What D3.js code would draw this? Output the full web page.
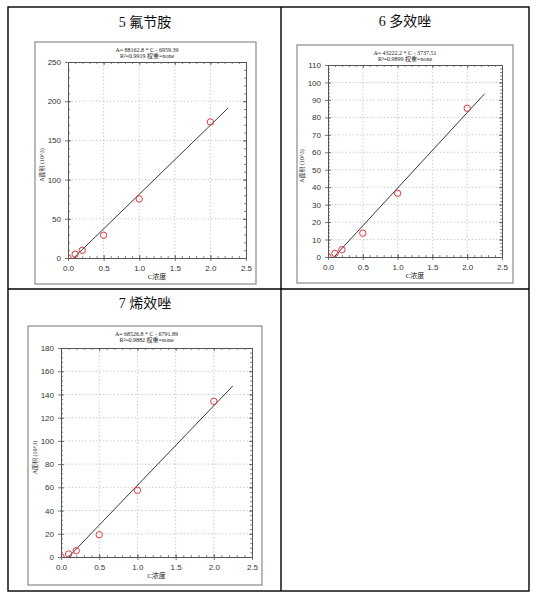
<!DOCTYPE html>
<html>
<head>
<meta charset="utf-8">
<script src="https://cdn.jsdelivr.net/npm/d3@7"></script>
<style>
html,body{margin:0;padding:0;background:#fff;}
svg{display:block;}
</style>
</head>
<body>
<svg id="chart" width="539" height="598"></svg>
<script>
// ---- data ----
const titles = ["5 氟节胺", "6 多效唑", "7 烯效唑"];
const equations = ["A= 88162.8 * C - 6959.39", "A= 43222.2 * C - 3737.51", "A= 68526.8 * C - 6791.89"];
const r2Texts = ["R²=0.9919 权重=none", "R²=0.9899 权重=none", "R²=0.9882 权重=none"];
const slopes = [88.1628, 43.2222, 68.5268];      // in 10^3 units
const intercepts = [-6.95939, -3.73751, -6.79189];
const concentrations = [0, 0.1, 0.2, 0.5, 1.0, 2.0];
const areas1 = [0, 4.8, 9.8, 29, 75.3, 173.5];
const areas2 = [0, 2.1, 4.2, 13.7, 36.5, 85.2];
const areas3 = [0, 2.6, 5.5, 19.2, 57.4, 134.1];
const seriesAreas = [areas1, areas2, areas3];
const xTicks = [0.0, 0.5, 1.0, 1.5, 2.0, 2.5];
const yTicks1 = [0, 50, 100, 150, 200, 250];
const yTicks2 = [0, 10, 20, 30, 40, 50, 60, 70, 80, 90, 100, 110];
const yTicks3 = [0, 20, 40, 60, 80, 100, 120, 140, 160, 180];
const yTickSets = [yTicks1, yTicks2, yTicks3];
const yMinorSteps = [10, 2, 4];
const xMinorStep = 0.1;
const fitRange = [0, 2.25];
const xTitle = "C浓度";
const yTitle = "A面积 (10^3)";

// ---- layout ----
const layouts = [
  {box:{x:35,y:42,w:221,h:242}, plot:{l:68,r:246,t:62,b:258}, title:[145,24]},
  {box:{x:297,y:45,w:216,h:238}, plot:{l:328,r:502,t:65,b:257}, title:[405,23]},
  {box:{x:28,y:326,w:234,h:259}, plot:{l:61,r:252,t:348,b:557}, title:[145,305]}
];

const svg = d3.select("#chart");
svg.append("rect").attr("width",539).attr("height",598).attr("fill","#fff");

// table
const tbl = svg.append("g").attr("stroke","#000").attr("stroke-width",1.4).attr("fill","none");
tbl.append("rect").attr("x",8).attr("y",7).attr("width",521).attr("height",584);
tbl.append("line").attr("x1",281).attr("x2",281).attr("y1",7).attr("y2",591);
tbl.append("line").attr("x1",8).attr("x2",529).attr("y1",289).attr("y2",289);

const tickFont = "'Liberation Sans', Arial, sans-serif";
const cjkFont = "'Liberation Serif','Noto Sans CJK SC', serif";

layouts.forEach((L, i) => {
  const g = svg.append("g");
  // title
  g.append("text").attr("x",L.title[0]).attr("y",L.title[1])
    .attr("text-anchor","middle").attr("dominant-baseline","middle")
    .attr("font-family",cjkFont).attr("font-size",14).attr("fill","#111")
    .text(titles[i]);
  // frame box
  g.append("rect").attr("x",L.box.x).attr("y",L.box.y).attr("width",L.box.w).attr("height",L.box.h)
    .attr("fill","#fff").attr("stroke","#8a8a8a").attr("stroke-width",1.2);

  const yt = yTickSets[i];
  const x = d3.scaleLinear().domain([0,2.5]).range([L.plot.l, L.plot.r]);
  const y = d3.scaleLinear().domain([0, yt[yt.length-1]]).range([L.plot.b, L.plot.t]);
  const pw = L.plot.r - L.plot.l, ph = L.plot.b - L.plot.t;

  // grid
  const grid = g.append("g").attr("stroke","#c0c0c0").attr("stroke-width",0.8).attr("stroke-dasharray","1.5,2");
  xTicks.slice(1,-1).forEach(v => grid.append("line").attr("x1",x(v)).attr("x2",x(v)).attr("y1",L.plot.t).attr("y2",L.plot.b));
  yt.slice(1,-1).forEach(v => grid.append("line").attr("x1",L.plot.l).attr("x2",L.plot.r).attr("y1",y(v)).attr("y2",y(v)));

  // axes with d3 axes
  const xMinor = d3.range(0, 2.5001, xMinorStep);
  const yMinor = d3.range(0, yt[yt.length-1] + 0.001, yMinorSteps[i]);
  const axColor = "#555";
  function styleAxis(sel){
    sel.select(".domain").attr("stroke",axColor).attr("stroke-width",1);
    sel.selectAll(".tick line").attr("stroke",axColor).attr("stroke-width",0.8);
    sel.selectAll("text").attr("font-family",tickFont).attr("font-size",8).attr("fill","#333");
  }
  // bottom
  const bx = g.append("g").attr("transform",`translate(0,${L.plot.b})`)
    .call(d3.axisBottom(x).tickValues(xTicks).tickFormat(d3.format(".1f")).tickSizeInner(3).tickSizeOuter(0).tickPadding(4));
  styleAxis(bx);
  g.append("g").attr("transform",`translate(0,${L.plot.b})`)
    .call(d3.axisTop(x).tickValues(xMinor).tickFormat("").tickSizeInner(2).tickSizeOuter(0))
    .call(s=>{s.select(".domain").remove(); s.selectAll("line").attr("stroke",axColor).attr("stroke-width",0.7);});
  g.append("g").attr("transform",`translate(0,${L.plot.b})`)
    .call(d3.axisTop(x).tickValues(xTicks).tickFormat("").tickSizeInner(3).tickSizeOuter(0))
    .call(s=>{s.select(".domain").remove(); s.selectAll("line").attr("stroke",axColor).attr("stroke-width",0.8);});
  // top
  g.append("g").attr("transform",`translate(0,${L.plot.t})`)
    .call(d3.axisBottom(x).tickValues(xMinor).tickFormat("").tickSizeInner(2).tickSizeOuter(0))
    .call(s=>{s.select(".domain").attr("stroke",axColor); s.selectAll("line").attr("stroke",axColor).attr("stroke-width",0.7);});
  g.append("g").attr("transform",`translate(0,${L.plot.t})`)
    .call(d3.axisBottom(x).tickValues(xTicks).tickFormat("").tickSizeInner(3).tickSizeOuter(0))
    .call(s=>{s.select(".domain").remove(); s.selectAll("line").attr("stroke",axColor).attr("stroke-width",0.8);});
  // left
  const ly = g.append("g").attr("transform",`translate(${L.plot.l},0)`)
    .call(d3.axisLeft(y).tickValues(yt).tickFormat(d3.format("d")).tickSizeInner(3).tickSizeOuter(0).tickPadding(4));
  styleAxis(ly);
  g.append("g").attr("transform",`translate(${L.plot.l},0)`)
    .call(d3.axisRight(y).tickValues(yMinor).tickFormat("").tickSizeInner(2).tickSizeOuter(0))
    .call(s=>{s.select(".domain").remove(); s.selectAll("line").attr("stroke",axColor).attr("stroke-width",0.7);});
  g.append("g").attr("transform",`translate(${L.plot.l},0)`)
    .call(d3.axisRight(y).tickValues(yt).tickFormat("").tickSizeInner(3).tickSizeOuter(0))
    .call(s=>{s.select(".domain").remove(); s.selectAll("line").attr("stroke",axColor).attr("stroke-width",0.8);});
  // right
  g.append("g").attr("transform",`translate(${L.plot.r},0)`)
    .call(d3.axisLeft(y).tickValues(yMinor).tickFormat("").tickSizeInner(2).tickSizeOuter(0))
    .call(s=>{s.select(".domain").attr("stroke",axColor); s.selectAll("line").attr("stroke",axColor).attr("stroke-width",0.7);});
  g.append("g").attr("transform",`translate(${L.plot.r},0)`)
    .call(d3.axisLeft(y).tickValues(yt).tickFormat("").tickSizeInner(3).tickSizeOuter(0))
    .call(s=>{s.select(".domain").remove(); s.selectAll("line").attr("stroke",axColor).attr("stroke-width",0.8);});

  // clip
  const cid = "clip"+i;
  g.append("clipPath").attr("id",cid).append("rect")
    .attr("x",L.plot.l).attr("y",L.plot.t).attr("width",pw).attr("height",ph);
  const pg = g.append("g").attr("clip-path",`url(#${cid})`);

  // fit line
  const lineData = fitRange.map(c => [c, slopes[i]*c + intercepts[i]]);
  pg.append("path").datum(lineData)
    .attr("d", d3.line().x(d=>x(d[0])).y(d=>y(d[1])))
    .attr("fill","none").attr("stroke","#222").attr("stroke-width",0.9);

  // points
  pg.selectAll("circle.pt").data(concentrations.map((c,k)=>[c, seriesAreas[i][k]]))
    .join("circle").attr("class","pt")
    .attr("cx",d=>x(d[0])).attr("cy",d=>y(d[1])).attr("r",3.2)
    .attr("fill","none").attr("stroke","#e0393b").attr("stroke-width",1);

  // annotation
  const cx = (L.plot.l + L.plot.r)/2 - 10;
  g.append("text").attr("x",cx).attr("y",L.box.y+8.5).attr("text-anchor","middle").attr("dominant-baseline","middle")
    .attr("font-family",cjkFont).attr("font-size",6).attr("fill","#222").text(equations[i]);
  g.append("text").attr("x",cx).attr("y",L.box.y+14.5).attr("text-anchor","middle").attr("dominant-baseline","middle")
    .attr("font-family",cjkFont).attr("font-size",6).attr("fill","#222").text(r2Texts[i]);

  // axis titles
  g.append("text").attr("x",(L.plot.l+L.plot.r)/2).attr("y",L.plot.b+19)
    .attr("text-anchor","middle").attr("dominant-baseline","middle")
    .attr("font-family",cjkFont).attr("font-size",7).attr("fill","#222").text(xTitle);
  const ytx = L.plot.l - 25, yty = (L.plot.t + L.plot.b)/2 + 5;
  g.append("text").attr("transform",`translate(${ytx},${yty}) rotate(-90)`)
    .attr("text-anchor","middle").attr("dominant-baseline","middle")
    .attr("font-family",cjkFont).attr("font-size",6).attr("fill","#222").text(yTitle);
});
</script>
</body>
</html>
